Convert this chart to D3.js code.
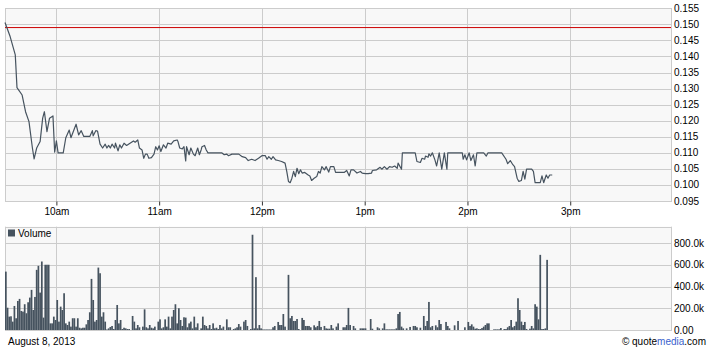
<!DOCTYPE html>
<html>
<head>
<meta charset="utf-8">
<script src="https://cdn.jsdelivr.net/npm/d3@7"></script>
<style>
  body { margin: 0; background: #fff; }
  svg { display: block; font-family: "Liberation Sans", Arial, sans-serif; }
</style>
</head>
<body>
<svg id="chart" width="709" height="350"></svg>
<script>
// price ticks: minutes after the 9:30 open, and price
const priceMinute = [
  0, 3, 6, 7, 10, 12, 14, 16, 17, 18.5, 20.5, 22, 23, 24.5, 26, 28, 29, 30, 31, 34,
  35.5, 37.5, 38.5, 41.5, 43, 44.5, 46, 49.5, 51, 51.5, 53, 54, 55.5, 57, 58.5, 59.5, 60.5, 61.5, 62.5, 64,
  64.5, 66, 67, 68, 69.5, 71, 73, 75, 76, 77.5, 78.5, 80, 81, 82, 83, 84, 85.5, 87, 88, 89,
  90, 91, 92.5, 94, 95, 97, 98.5, 100.5, 101, 102, 103.5, 104.5, 105.5, 106, 107.5, 108.5, 110, 111, 112.5, 113.5,
  114.5, 115, 116.5, 117.5, 118.5, 126.5, 128, 129.5, 130.5, 132.5, 136.5, 138.5, 140.5, 142, 144, 146, 148, 150, 152, 153,
  154, 155.5, 156.5, 158, 159.5, 161.5, 163.5, 164.5, 165.5, 166.5, 167.5, 168.5, 169.5, 170.5, 171.5, 172.5, 173.5, 175, 177, 178,
  179, 180.5, 182, 183, 184, 185, 186.5, 187.5, 189, 190, 192, 193, 198, 199.5, 201, 202, 203.5, 205.5, 207.5, 208.5,
  210.5, 212, 214, 214.5, 217, 219, 220, 221.5, 223, 224.5, 226, 227.5, 229, 229.5, 231.5, 232, 239.5, 240.5, 242.5, 243.5,
  245, 245.5, 247, 247.5, 248.5, 249.5, 251, 252, 253.5, 255, 256.5, 258, 258.5, 267, 267.5, 268.5, 269.5, 271, 272, 273.5,
  274.5, 275.5, 279.5, 281, 282, 290, 292.5, 293.5, 295, 296.5, 297.5, 299, 300, 301.5, 302.5, 303.5, 304.5, 307.5, 308.5, 309.5,
  312.5, 313.5, 314.5, 316, 317, 318, 319.5
];
const priceValue = [
  0.1506, 0.1462, 0.1405, 0.1303, 0.1280, 0.1228, 0.1197, 0.1115, 0.1081, 0.1115, 0.1135, 0.1208, 0.1228, 0.1166, 0.1208, 0.1215, 0.1102, 0.1137, 0.1100, 0.1100,
  0.1147, 0.1171, 0.1147, 0.1189, 0.1156, 0.1169, 0.1151, 0.1151, 0.1169, 0.1153, 0.1169, 0.1168, 0.1127, 0.1115, 0.1127, 0.1115, 0.1123, 0.1115, 0.1127, 0.1115,
  0.1130, 0.1106, 0.1125, 0.1115, 0.1130, 0.1123, 0.1130, 0.1137, 0.1133, 0.1140, 0.1115, 0.1109, 0.1083, 0.1096, 0.1096, 0.1083, 0.1085, 0.1096, 0.1119, 0.1109,
  0.1122, 0.1104, 0.1125, 0.1115, 0.1130, 0.1127, 0.1137, 0.1140, 0.1135, 0.1115, 0.1112, 0.1119, 0.1075, 0.1119, 0.1094, 0.1115, 0.1096, 0.1091, 0.1115, 0.1094,
  0.1109, 0.1119, 0.1123, 0.1109, 0.1100, 0.1100, 0.1094, 0.1096, 0.1091, 0.1096, 0.1096, 0.1088, 0.1085, 0.1076, 0.1080, 0.1076, 0.1083, 0.1091, 0.1091, 0.1080,
  0.1088, 0.1080, 0.1088, 0.1078, 0.1076, 0.1073, 0.1068, 0.1042, 0.1011, 0.1007, 0.1021, 0.1042, 0.1026, 0.1052, 0.1035, 0.1047, 0.1037, 0.1039, 0.1031, 0.1028,
  0.1014, 0.1021, 0.1026, 0.1042, 0.1037, 0.1057, 0.1047, 0.1057, 0.1040, 0.1057, 0.1057, 0.1039, 0.1039, 0.1045, 0.1028, 0.1047, 0.1047, 0.1037, 0.1042, 0.1037,
  0.1035, 0.1035, 0.1037, 0.1045, 0.1047, 0.1055, 0.1049, 0.1057, 0.1049, 0.1057, 0.1055, 0.1059, 0.1052, 0.1068, 0.1049, 0.1100, 0.1100, 0.1073, 0.1070, 0.1083,
  0.1080, 0.1090, 0.1086, 0.1097, 0.1090, 0.1100, 0.1078, 0.1059, 0.1100, 0.1049, 0.1100, 0.1049, 0.1100, 0.1100, 0.1080, 0.1094, 0.1078, 0.1100, 0.1076, 0.1094,
  0.1059, 0.1100, 0.1100, 0.1090, 0.1100, 0.1100, 0.1080, 0.1066, 0.1076, 0.1063, 0.1057, 0.1021, 0.1011, 0.1014, 0.1042, 0.1018, 0.1049, 0.1049, 0.1042, 0.1007,
  0.1007, 0.1028, 0.1007, 0.1031, 0.1021, 0.1031, 0.1031
];
const prevClose = 0.149;

// volume per minute from the open, in thousands of shares
const volumeK = [
  537, 205, 123, 126, 77, 221, 108, 267, 286, 175, 169, 237, 154, 255, 298, 369, 184, 304, 553, 590,
  344, 630, 114, 600, 600, 600, 61, 61, 123, 92, 276, 77, 215, 184, 338, 61, 46, 77, 31, 108,
  108, 31, 108, 21, 15, 21, 21, 52, 92, 163, 470, 276, 77, 92, 574, 522, 123, 163, 77, 5,
  15, 28, 37, 9, 92, 230, 61, 92, 9, 21, 15, 9, 9, 0, 129, 77, 15, 46, 25, 0,
  31, 190, 25, 15, 46, 21, 15, 31, 0, 77, 98, 15, 25, 98, 31, 123, 15, 123, 184, 237,
  61, 200, 92, 37, 117, 114, 25, 61, 77, 15, 123, 25, 61, 0, 15, 123, 46, 37, 15, 46,
  9, 61, 15, 21, 9, 46, 15, 31, 0, 98, 25, 25, 0, 9, 15, 25, 55, 31, 0, 77,
  92, 37, 0, 9, 876, 15, 486, 15, 46, 15, 5, 5, 5, 5, 5, 5, 25, 37, 0, 74,
  46, 46, 147, 31, 0, 507, 108, 129, 83, 83, 101, 9, 0, 111, 92, 37, 37, 37, 25, 0,
  43, 25, 37, 83, 28, 0, 37, 15, 12, 12, 46, 15, 0, 31, 61, 0, 0, 25, 25, 46,
  203, 46, 0, 37, 15, 0, 0, 15, 15, 15, 15, 0, 0, 101, 12, 0, 0, 25, 15, 0,
  15, 61, 6, 6, 6, 6, 6, 6, 15, 147, 166, 31, 15, 0, 15, 0, 28, 0, 37, 37,
  25, 0, 21, 0, 129, 37, 83, 258, 25, 37, 0, 43, 25, 92, 55, 0, 0, 74, 37, 15,
  0, 0, 43, 0, 83, 0, 0, 0, 25, 0, 74, 37, 52, 31, 12, 15, 9, 9, 18, 31,
  46, 61, 61, 0, 0, 6, 6, 6, 6, 18, 0, 9, 9, 25, 37, 92, 25, 37, 77, 292,
  184, 77, 46, 74, 9, 0, 12, 37, 15, 237, 215, 98, 691, 9, 9, 15, 645
];

const priceTicks = [0.095, 0.100, 0.105, 0.110, 0.115, 0.120, 0.125, 0.130, 0.135, 0.140, 0.145, 0.150, 0.155];
const volumeTicks = [0, 200000, 400000, 600000, 800000];
const dateLabel = "August 8, 2013";

const svg = d3.select("#chart");
const left = 5, right = 671;
const grid = "#cccccc", ink = "#46535f";

const open = new Date(2013, 7, 8, 9, 30);
const at = m => new Date(+open + m * 60000);

const x = d3.scaleTime()
  .domain([open, new Date(2013, 7, 8, 16, 0)])
  .range([left, 673]);

const yP = d3.scaleLinear().domain([0.095, 0.155]).range([201, 8.3]);
const yV = d3.scaleLinear().domain([0, 950000]).range([330, 226.7]);

const hours = d3.timeHour.range(at(1), at(389));
const fmtHour = d => d3.timeFormat("%-I%p")(d).toLowerCase();

function panel(y0, y1) {
  svg.append("rect")
    .attr("x", left + 0.5).attr("y", y0)
    .attr("width", right - left).attr("height", y1 - y0)
    .attr("fill", "#f8f8f8");
  const g = svg.append("g").attr("stroke", grid).attr("stroke-width", 1);
  g.selectAll("line.v")
    .data(hours)
    .enter().append("line")
    .attr("x1", d => Math.round(x(d)) + 0.5).attr("x2", d => Math.round(x(d)) + 0.5)
    .attr("y1", y0).attr("y2", y1);
  return g;
}

// ---- price panel
const gp = panel(8.3, 201);
gp.selectAll("line.h")
  .data(priceTicks)
  .enter().append("line")
  .attr("x1", left).attr("x2", right + 1)
  .attr("y1", d => Math.round(yP(d)) + 0.5).attr("y2", d => Math.round(yP(d)) + 0.5);
gp.append("line")
  .attr("x1", left + 0.5).attr("x2", left + 0.5).attr("y1", 8).attr("y2", 201.5);
gp.append("line")
  .attr("x1", right + 0.5).attr("x2", right + 0.5).attr("y1", 8).attr("y2", 201.5);

svg.append("line")
  .attr("x1", left).attr("x2", right)
  .attr("y1", yP(prevClose)).attr("y2", yP(prevClose))
  .attr("stroke", "#cc0000").attr("stroke-width", 1);

const line = d3.line()
  .x((d, i) => x(at(priceMinute[i])))
  .y(d => yP(d));

svg.append("path")
  .datum(priceValue)
  .attr("d", line)
  .attr("fill", "none")
  .attr("stroke", ink)
  .attr("stroke-width", 1.2)
  .attr("stroke-linejoin", "round");

// hour ticks and labels
svg.append("g")
  .attr("transform", "translate(0,201.5)")
  .call(d3.axisBottom(x).tickValues(hours).tickSize(4).tickFormat(fmtHour))
  .call(g => g.select(".domain").remove())
  .call(g => g.selectAll("line").attr("stroke", "#333"))
  .call(g => g.selectAll("text").attr("font-size", 10).attr("fill", "#000")
    .attr("font-family", "Liberation Sans, Arial, sans-serif").attr("dy", "0.95em").attr("y", 4));

svg.append("g")
  .selectAll("text")
  .data(priceTicks)
  .enter().append("text")
  .attr("x", 674).attr("y", d => yP(d))
  .attr("dy", "0.35em")
  .attr("font-size", 10)
  .text(d => d3.format(".3f")(d));

// ---- volume panel
const gv = panel(226.7, 330);
gv.selectAll("line.h")
  .data(volumeTicks.concat([950000]))
  .enter().append("line")
  .attr("x1", left).attr("x2", right + 1)
  .attr("y1", d => Math.round(yV(d)) + 0.5).attr("y2", d => Math.round(yV(d)) + 0.5);
gv.append("line")
  .attr("x1", left + 0.5).attr("x2", left + 0.5).attr("y1", 226.7).attr("y2", 330.5);
gv.append("line")
  .attr("x1", right + 0.5).attr("x2", right + 0.5).attr("y1", 226.7).attr("y2", 330.5);

svg.append("g")
  .selectAll("rect")
  .data(volumeK)
  .enter().append("rect")
  .attr("x", (d, i) => x(at(i)))
  .attr("width", (d, i) => x(at(i + 1)) - x(at(i)))
  .attr("y", d => yV(d * 1000))
  .attr("height", d => yV(0) - yV(d * 1000))
  .attr("fill", ink);

svg.append("g")
  .selectAll("text")
  .data(volumeTicks)
  .enter().append("text")
  .attr("x", 674).attr("y", d => yV(d))
  .attr("dy", "0.35em")
  .attr("font-size", 10)
  .text(d => d === 0 ? "0.00" : d3.format(".1f")(d / 1000) + "k");

// legend
svg.append("rect")
  .attr("x", 8).attr("y", 229.5).attr("width", 7).attr("height", 7)
  .attr("fill", ink);
svg.append("text")
  .attr("x", 18).attr("y", 236.5)
  .attr("font-size", 10)
  .text("Volume");

// footer
svg.append("text")
  .attr("x", 8).attr("y", 345)
  .attr("font-size", 10)
  .text(dateLabel);

const credit = svg.append("text")
  .attr("x", 706).attr("y", 345)
  .attr("text-anchor", "end")
  .attr("font-size", 10);
credit.append("tspan").text("\u00a9 quote");
credit.append("tspan").attr("fill", "#3a5fcd").text("media");
credit.append("tspan").text(".com");
</script>
</body>
</html>
